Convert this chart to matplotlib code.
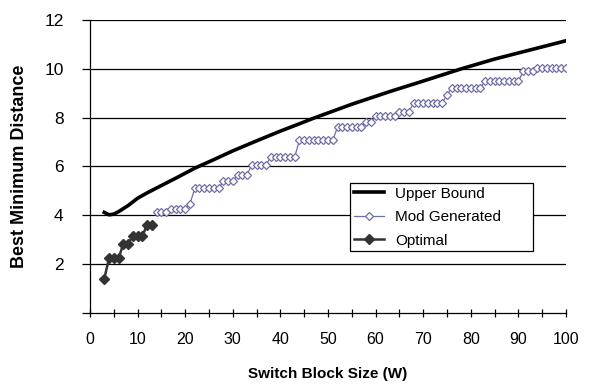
import matplotlib
matplotlib.use("Agg")
import matplotlib.pyplot as plt

plt.rcParams["font.family"] = ["Liberation Sans", "DejaVu Sans"]

# Upper bound
w_upper = [3, 4, 5, 6, 8, 10, 12, 15, 18, 22, 26, 30, 35, 40, 44, 47, 55, 63, 70, 78, 85, 92, 100]
upper = [4.12, 4.02, 4.05, 4.15, 4.40, 4.70, 4.92, 5.22, 5.52, 5.93, 6.28, 6.64, 7.05, 7.45, 7.75,
         7.98, 8.55, 9.07, 9.50, 10.0, 10.40, 10.75, 11.15]

# Optimal results
w_opt = [3, 4, 5, 6, 7, 8, 9, 10, 11, 12, 13]
optimal = [1.41, 2.24, 2.24, 2.24, 2.83, 2.83, 3.16, 3.16, 3.16, 3.61, 3.61]

# Mod generated
w_mod = list(range(14, 101))
mod_gen = [4.12, 4.12, 4.12,
           4.24, 4.24, 4.24, 4.24,
           4.47,
           5.10, 5.10, 5.10, 5.10, 5.10, 5.10,
           5.39, 5.39, 5.39,
           5.66, 5.66, 5.66,
           6.08, 6.08, 6.08, 6.08,
           6.40, 6.40, 6.40, 6.40, 6.40, 6.40,
           7.07, 7.07, 7.07, 7.07, 7.07, 7.07, 7.07, 7.07,
           7.62, 7.62, 7.62, 7.62, 7.62, 7.62,
           7.81, 7.81,
           8.06, 8.06, 8.06, 8.06, 8.06,
           8.25, 8.25, 8.25,
           8.60, 8.60, 8.60, 8.60, 8.60, 8.60, 8.60,
           8.94,
           9.22, 9.22, 9.22, 9.22, 9.22, 9.22, 9.22,
           9.49, 9.49, 9.49, 9.49, 9.49, 9.49, 9.49, 9.49,
           9.90, 9.90, 9.90,
           10.05, 10.05, 10.05, 10.05, 10.05, 10.05, 10.05]

yticks = [0, 2, 4, 6, 8, 10, 12]
ytick_labels = ["", "2", "4", "6", "8", "10", "12"]

fig = plt.figure(figsize=(5.91, 3.89), dpi=100)
ax = fig.add_axes([0.1523, 0.1954, 0.8054, 0.7532])

for y in yticks[1:]:
    ax.axhline(y, color="black", lw=0.9, zorder=1)

ax.plot(w_upper, upper, color="black", lw=2.6, label="Upper Bound", zorder=3)
ax.plot(w_mod, mod_gen, color="#6f6fa8", lw=0.9, marker="D", markersize=4.5,
        markerfacecolor="white", markeredgecolor="#6f6fa8", markeredgewidth=0.9,
        label="Mod Generated", zorder=4)
ax.plot(w_opt, optimal, color="#333333", lw=1.8, marker="D", markersize=5,
        markerfacecolor="#333333", markeredgecolor="#333333", label="Optimal", zorder=5)

ax.set_xlim(0, 100)
ax.set_ylim(0, 12)
ax.set_xticks(list(range(0, 101, 5)))
ax.set_xticklabels([str(v) if v % 10 == 0 else "" for v in range(0, 101, 5)])
ax.set_yticks(yticks)
ax.set_yticklabels(ytick_labels)

for s in ["top", "right"]:
    ax.spines[s].set_visible(False)
ax.spines["left"].set_linewidth(0.9)
ax.spines["bottom"].set_linewidth(0.9)

ax.tick_params(axis="x", direction="inout", length=6, width=0.9, pad=11, labelsize=11.5)
ax.tick_params(axis="y", direction="out", length=6, width=0.9, pad=13, labelsize=12.5)

ax.set_xlabel("Switch Block Size (W)", fontsize=11, fontweight="bold", labelpad=14)
ax.set_ylabel("Best Minimum Distance", fontsize=13, fontweight="bold", labelpad=12)

leg = ax.legend(loc="upper left", bbox_to_anchor=(0.546, 0.208, 0.385, 0.236), mode="expand",
                fontsize=11, frameon=True, fancybox=False, shadow=False, borderaxespad=0,
                borderpad=0.25, handlelength=2.0, handletextpad=0.7, labelspacing=0.62)
leg.get_frame().set_edgecolor("black")
leg.get_frame().set_linewidth(0.9)
leg.get_frame().set_alpha(1)
leg.set_zorder(10)

fig.savefig("out.png", dpi=100)
